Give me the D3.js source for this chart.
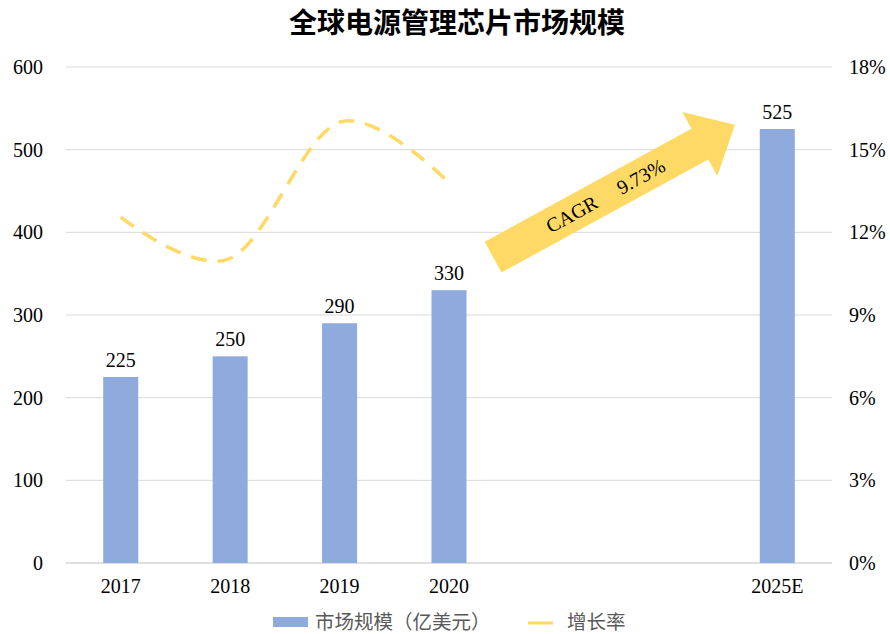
<!DOCTYPE html>
<html>
<head>
<meta charset="utf-8">
<script src="https://cdn.jsdelivr.net/npm/d3@7"></script>
<style>
  body { margin: 0; background: #fff; }
  text { font-family: "Liberation Serif", "Times New Roman", serif; }
  .cjk { font-family: "Noto Sans CJK SC", sans-serif; }
</style>
</head>
<body>
<svg id="chart" width="890" height="634"></svg>
<script>
// data
var years = ["2017", "2018", "2019", "2020", "", " ", "2025E"];
var marketSize = [225, 250, 290, 330, null, null, 525];
var growthYears = ["2017", "2018", "2019", "2020"];
var growthRate = [12.55, 11.05, 16.0, 13.8];
var leftTicks = [0, 100, 200, 300, 400, 500, 600];
var rightTicks = [0, 3, 6, 9, 12, 15, 18];
var cagrText = "CAGR     9.73%";

var svg = d3.select("#chart");
var margin = {left: 66, right: 58, top: 67, bottom: 71};
var width = 890 - margin.left - margin.right;
var height = 634 - margin.top - margin.bottom;

var xScale = d3.scaleBand()
    .domain(years)
    .range([0, width])
    .paddingInner(0.68)
    .paddingOuter(0.34);

var yScale = d3.scaleLinear()
    .domain([0, 600])
    .range([height, 0]);

var yScaleR = d3.scaleLinear()
    .domain([0, 18])
    .range([height, 0]);

var g = svg.append("g")
    .attr("transform", "translate(" + margin.left + "," + margin.top + ")");

// title
svg.append("text")
    .attr("class", "cjk")
    .attr("x", 457)
    .attr("y", 33)
    .attr("text-anchor", "middle")
    .attr("font-size", 28)
    .attr("font-weight", "bold")
    .attr("fill", "#000")
    .text("全球电源管理芯片市场规模");

// gridlines
g.append("g")
    .selectAll("line")
    .data(leftTicks)
    .enter()
    .append("line")
    .attr("x1", 0)
    .attr("x2", width)
    .attr("y1", function(d) { return yScale(d); })
    .attr("y2", function(d) { return yScale(d); })
    .attr("stroke", function(d) { return d === 0 ? "#bfbfbf" : "#d9d9d9"; })
    .attr("stroke-width", 1);

// left axis
var yAxis = d3.axisLeft(yScale).tickValues(leftTicks).tickSize(0).tickPadding(23);
var ya = g.append("g").call(yAxis);
ya.select(".domain").remove();
ya.selectAll("text").attr("font-size", 20).attr("fill", "#000")
    .style("font-family", "Liberation Serif");

// right axis
var yAxisR = d3.axisRight(yScaleR).tickValues(rightTicks).tickSize(0).tickPadding(17)
    .tickFormat(function(d) { return d + "%"; });
var yr = g.append("g").attr("transform", "translate(" + width + ",0)").call(yAxisR);
yr.select(".domain").remove();
yr.selectAll("text").attr("font-size", 20).attr("fill", "#000")
    .style("font-family", "Liberation Serif");

// x axis
var xAxis = d3.axisBottom(xScale).tickSize(0).tickPadding(16);
var xa = g.append("g").attr("transform", "translate(0," + height + ")").call(xAxis);
xa.select(".domain").remove();
xa.selectAll("text").attr("font-size", 20).attr("fill", "#000")
    .style("font-family", "Liberation Serif");

// bars
var barData = years.map(function(y, i) { return {year: y, value: marketSize[i]}; })
    .filter(function(d) { return d.value !== null; });

g.append("g")
    .selectAll("rect")
    .data(barData)
    .enter()
    .append("rect")
    .attr("x", function(d) { return xScale(d.year); })
    .attr("y", function(d) { return yScale(d.value); })
    .attr("width", xScale.bandwidth())
    .attr("height", function(d) { return height - yScale(d.value); })
    .attr("fill", "#8faadc");

g.append("g")
    .selectAll("text")
    .data(barData)
    .enter()
    .append("text")
    .attr("x", function(d) { return xScale(d.year) + xScale.bandwidth() / 2; })
    .attr("y", function(d) { return yScale(d.value) - 10; })
    .attr("text-anchor", "middle")
    .attr("font-size", 20)
    .attr("fill", "#000")
    .text(function(d) { return d.value; });

// growth line
var lineData = growthYears.map(function(y, i) { return {year: y, value: growthRate[i]}; });
var line = d3.line()
    .x(function(d) { return xScale(d.year) + xScale.bandwidth() / 2; })
    .y(function(d) { return yScaleR(d.value); })
    .curve(d3.curveCardinal.tension(0));

g.append("path")
    .datum(lineData)
    .attr("d", line)
    .attr("fill", "none")
    .attr("stroke", "#ffd966")
    .attr("stroke-width", 3.5)
    .attr("stroke-dasharray", "16,11");

// CAGR arrow (annotation, anchored to scale positions)
var tailX = xScale("2020") + xScale.bandwidth() * 1.76;
var tailY = yScale(370);
var tipX = xScale("2025E") - xScale.bandwidth() * 0.71;
var tipY = yScale(530);
var dx = tipX - tailX, dy = tipY - tailY;
var len = Math.sqrt(dx * dx + dy * dy);
var angle = Math.atan2(dy, dx) * 180 / Math.PI;
var shaftHalf = 17.5, headHalf = 36.5, headLen = 40;

var arrow = g.append("g")
    .attr("transform", "translate(" + tailX + "," + tailY + ") rotate(" + angle + ")");

arrow.append("path")
    .attr("d", "M0," + (-shaftHalf) +
        " L" + (len - headLen) + "," + (-shaftHalf) +
        " L" + (len - headLen) + "," + (-headHalf) +
        " L" + len + ",0" +
        " L" + (len - headLen) + "," + headHalf +
        " L" + (len - headLen) + "," + shaftHalf +
        " L0," + shaftHalf + " Z")
    .attr("fill", "#ffd966");

arrow.append("text")
    .attr("x", 128)
    .attr("y", 7)
    .attr("text-anchor", "middle")
    .attr("font-size", 20)
    .attr("fill", "#000")
    .attr("xml:space", "preserve")
    .style("white-space", "pre")
    .text(cagrText);

// legend
var legend = svg.append("g").attr("transform", "translate(273,622)");
legend.append("rect")
    .attr("x", 0).attr("y", -5)
    .attr("width", 35).attr("height", 10)
    .attr("fill", "#8faadc");
legend.append("text")
    .attr("class", "cjk")
    .attr("x", 42).attr("y", 7)
    .attr("font-size", 19.5)
    .attr("fill", "#595959")
    .text("市场规模（亿美元）");
legend.append("line")
    .attr("x1", 255).attr("x2", 280)
    .attr("y1", 1).attr("y2", 1)
    .attr("stroke", "#ffd966")
    .attr("stroke-width", 3);
legend.append("text")
    .attr("class", "cjk")
    .attr("x", 294).attr("y", 7)
    .attr("font-size", 19.5)
    .attr("fill", "#595959")
    .text("增长率");
</script>
</body>
</html>
